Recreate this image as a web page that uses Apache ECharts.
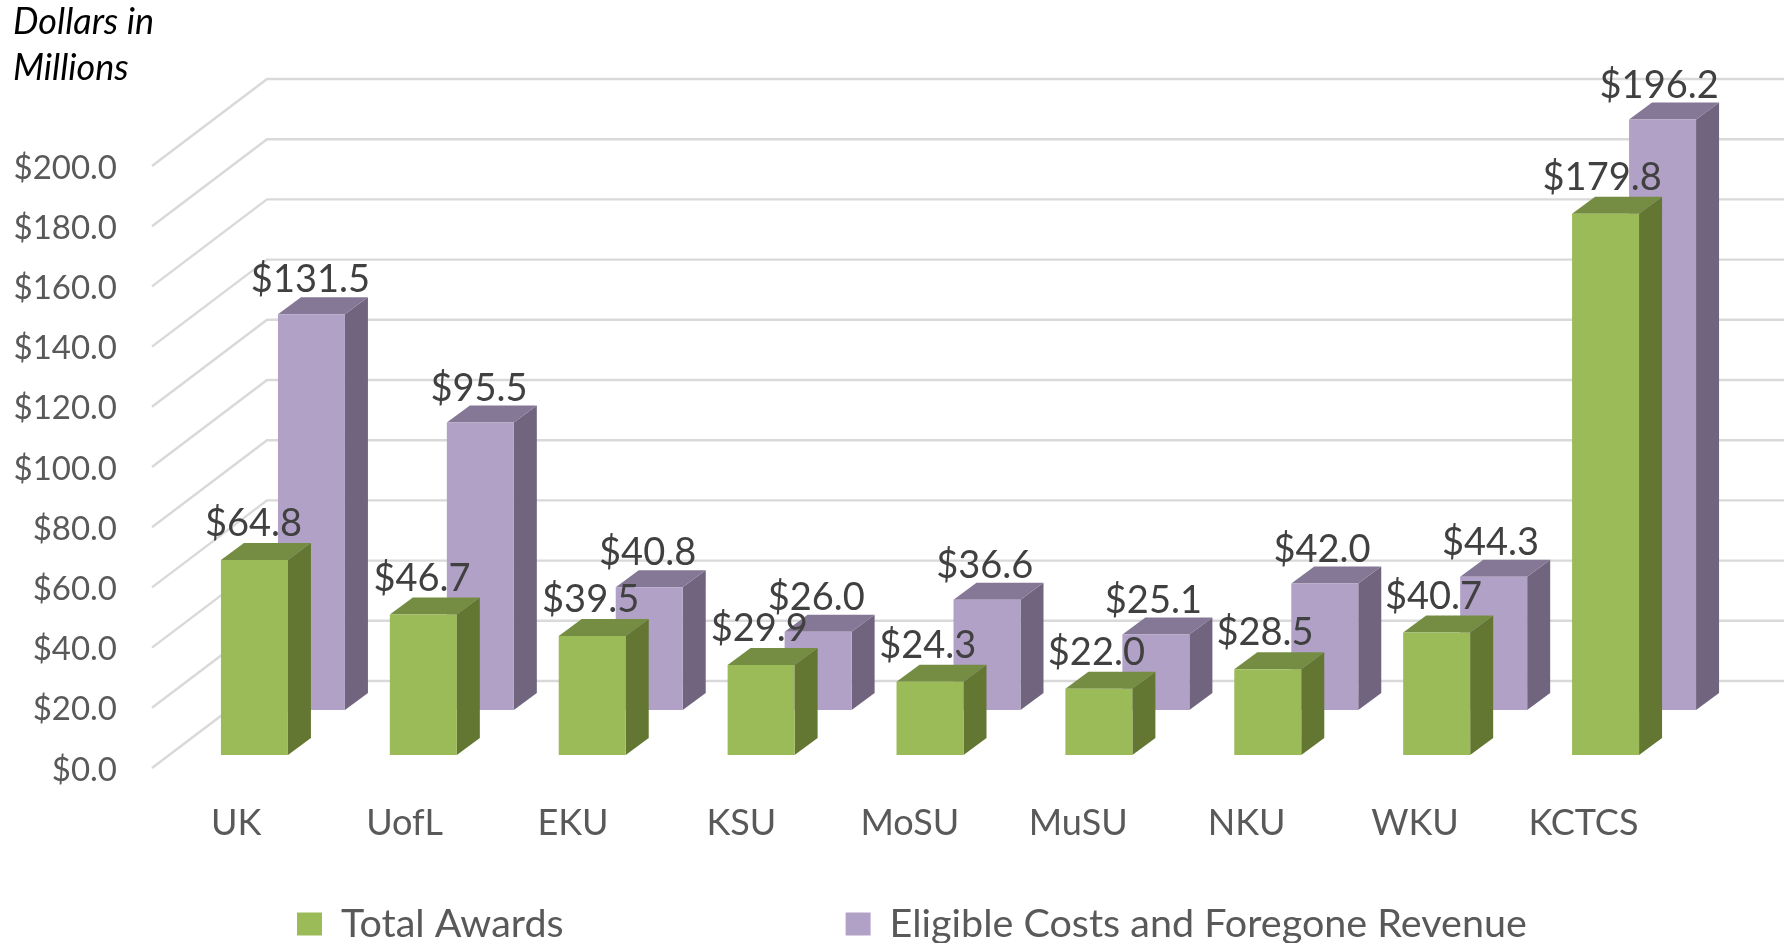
<!DOCTYPE html>
<html>
<head>
<meta charset="utf-8">
<title>Total Awards vs Eligible Costs</title>
<style>
html,body{margin:0;padding:0;background:#fff;}
#chart{width:1790px;height:943px;}
</style>
<script src="https://cdn.jsdelivr.net/npm/echarts@6/dist/echarts.min.js"></script>
</head>
<body>
<div id="chart"></div>
<script>
// values
const schools = ['UK','UofL','EKU','KSU','MoSU','MuSU','NKU','WKU','KCTCS'];
const totalAwards = [64.8,46.7,39.5,29.9,24.3,22.0,28.5,40.7,179.8];
const eligibleCosts = [131.5,95.5,40.8,26.0,36.6,25.1,42.0,44.3,196.2];
const yTicks = [0,20,40,60,80,100,120,140,160,180,200];

// fake 3d depth, pixels
const WALL_DX = 115, WALL_DY = 87;
const WALL_TRIM = 3; // back wall stops a bit short of the last band
const BAR_DX = 23, BAR_DY = 17;
const BAR_W = 67;
const FONT = 'Lato';

function pairs(values){
  return values.map((v,i)=>[schools[i],v]);
}

// gridline: front edge goes back along the side wall, then across the back wall
function renderGrid(params,api){
  let half = api.size([1,0])[0]/2;
  let left = api.coord([0,api.value(1)]);
  let right = api.coord([schools.length-1,api.value(1)]);
  return {
    type:'polyline',
    shape:{points:[
      [left[0]-half,left[1]],
      [left[0]-half+WALL_DX,left[1]-WALL_DY],
      [right[0]+half+WALL_DX-WALL_TRIM,right[1]-WALL_DY]
    ]},
    style:{stroke:'#d9d9d9',lineWidth:2.4,fill:null}
  };
}

function barRenderer(offX,offY,colors){
  return function(params,api){
    let top = api.coord([api.value(0),api.value(1)]);
    let base = api.coord([api.value(0),0]);
    let x0 = top[0]+offX-BAR_W/2, x1 = x0+BAR_W;
    let y0 = top[1]-offY, y1 = base[1]-offY;
    return {
      type:'group',
      children:[
        {type:'polygon',shape:{points:[[x1,y0],[x1+BAR_DX,y0-BAR_DY],[x1+BAR_DX,y1-BAR_DY],[x1,y1]]},style:{fill:colors[1]}},
        {type:'polygon',shape:{points:[[x0,y0],[x0+BAR_DX,y0-BAR_DY],[x1+BAR_DX,y0-BAR_DY],[x1,y0]]},style:{fill:colors[2]}},
        {type:'rect',shape:{x:x0,y:y0,width:BAR_W,height:y1-y0},style:{fill:colors[0]}}
      ]
    };
  };
}

function labelRenderer(offX,offY,gap){
  return function(params,api){
    let top = api.coord([api.value(0),api.value(1)]);
    return {
      type:'text',
      x:top[0]+offX-1-params.dataIndex*0.3,
      y:top[1]-offY-BAR_DY-gap,
      style:{
        text:'$'+api.value(1).toFixed(1),
        font:'38px '+FONT,
        fill:'#404040',
        align:'center',
        verticalAlign:'middle'
      }
    };
  };
}

const GREEN = ['#9bbb59','#637733','#758d43'];
const PURPLE = ['#b2a1c7','#70647f','#857896'];
const GREEN_OFF = [18,13], PURPLE_OFF = [75,58];

const option = {
  animation:false,
  backgroundColor:'#fff',
  textStyle:{fontFamily:FONT},
  title:{
    text:'Dollars in\nMillions',
    left:8,
    top:-6,
    textStyle:{fontFamily:FONT,fontStyle:'italic',fontWeight:'normal',fontSize:36,lineHeight:46,color:'#000'}
  },
  legend:{
    data:['Total Awards','Eligible Costs and Foregone Revenue'],
    left:297,
    top:904,
    padding:0,
    icon:'rect',
    itemWidth:25,
    itemHeight:23,
    itemGap:282,
    textStyle:{fontFamily:FONT,fontSize:39.5,color:'#595959',padding:[0,0,0,14]}
  },
  // second grid only carries the axis text, it sits slightly off the one the bars use
  grid:[
    {left:152,top:166,width:1520,height:602},
    {left:152,top:168,width:1515.6,height:602}
  ],
  xAxis:[
    {
      type:'category',
      data:schools,
      axisLine:{show:false},
      axisTick:{show:false},
      axisLabel:{show:false}
    },
    {
      type:'category',
      gridIndex:1,
      data:schools,
      axisLine:{show:false},
      axisTick:{show:false},
      axisLabel:{fontFamily:FONT,fontSize:36,color:'#595959',margin:35}
    }
  ],
  yAxis:[
    {
      type:'value',
      min:0,
      max:200,
      interval:20,
      axisLine:{show:false},
      axisTick:{show:false},
      splitLine:{show:false},
      axisLabel:{show:false}
    },
    {
      type:'value',
      gridIndex:1,
      min:0,
      max:200,
      interval:20,
      axisLine:{show:false},
      axisTick:{show:false},
      splitLine:{show:false},
      axisLabel:{fontFamily:FONT,fontSize:33,color:'#595959',margin:35,
        formatter:(v)=>'$'+v.toFixed(1)}
    }
  ],
  series:[
    {type:'custom',name:'grid',silent:true,z:1,renderItem:renderGrid,
      encode:{x:0,y:1},data:yTicks.map(t=>[schools[0],t])},
    {type:'custom',name:'Eligible Costs and Foregone Revenue',z:2,
      itemStyle:{color:PURPLE[0]},renderItem:barRenderer(PURPLE_OFF[0],PURPLE_OFF[1],PURPLE),
      encode:{x:0,y:1},data:pairs(eligibleCosts)},
    {type:'custom',name:'Total Awards',z:3,
      itemStyle:{color:GREEN[0]},renderItem:barRenderer(GREEN_OFF[0],GREEN_OFF[1],GREEN),
      encode:{x:0,y:1},data:pairs(totalAwards)},
    {type:'custom',name:'costLabels',silent:true,z:4,renderItem:labelRenderer(PURPLE_OFF[0],PURPLE_OFF[1],17),
      encode:{x:0,y:1},data:pairs(eligibleCosts)},
    {type:'custom',name:'awardLabels',silent:true,z:5,renderItem:labelRenderer(GREEN_OFF[0],GREEN_OFF[1],19),
      encode:{x:0,y:1},data:pairs(totalAwards)}
  ]
};

let box = echarts.init(document.getElementById('chart'));
box.setOption(option);
</script>
</body>
</html>
